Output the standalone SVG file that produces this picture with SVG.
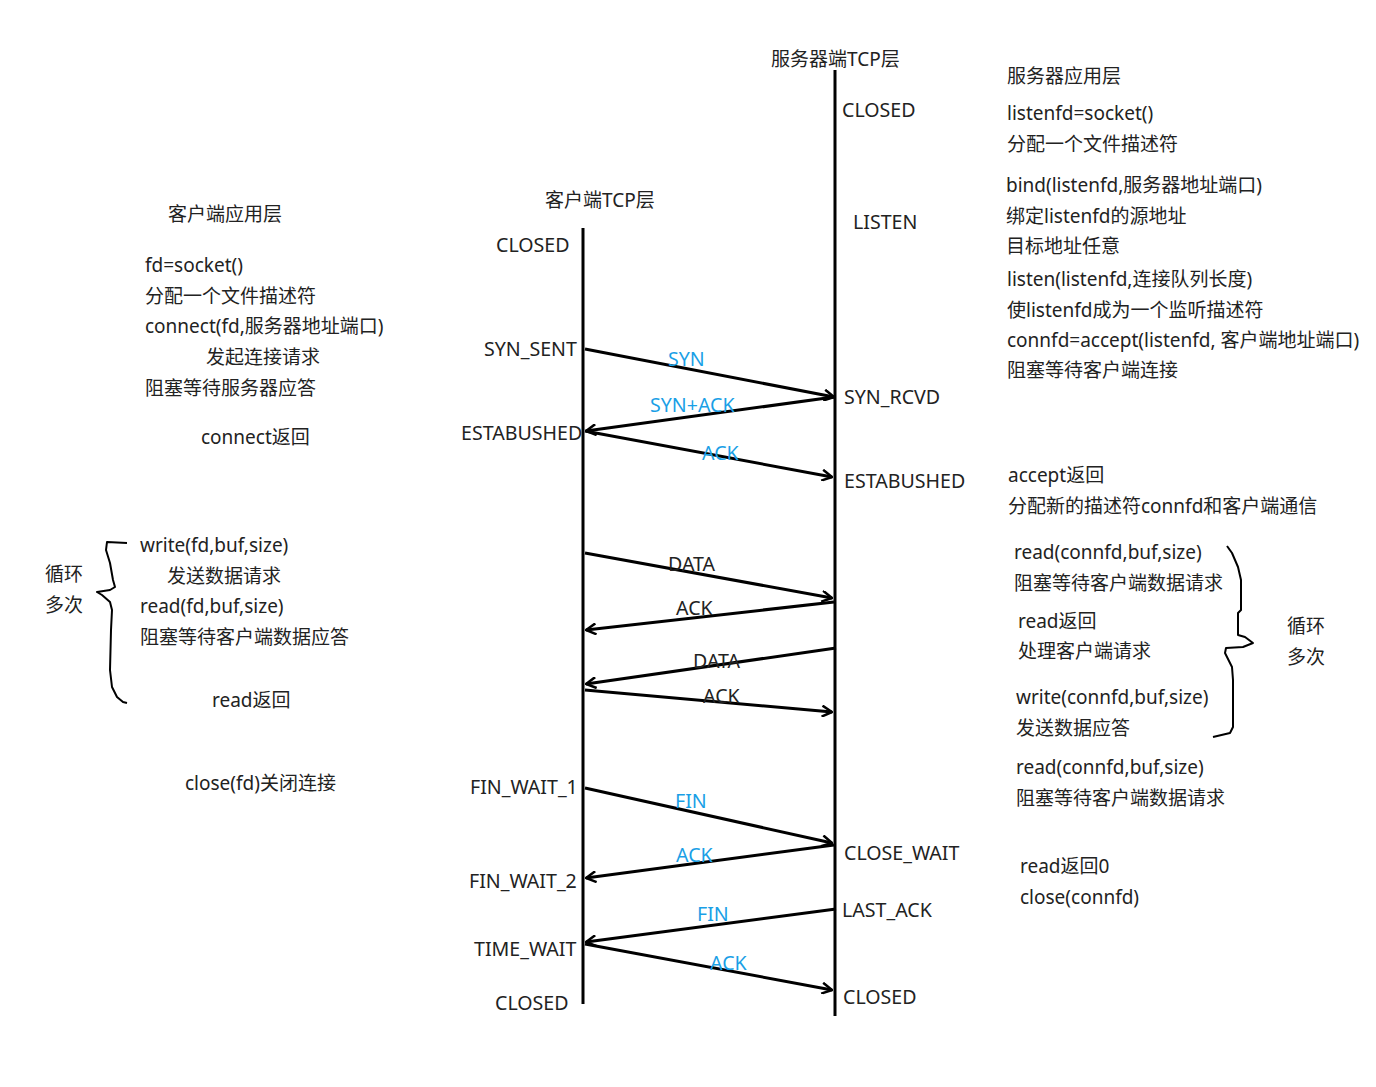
<svg xmlns="http://www.w3.org/2000/svg" width="1376" height="1087" viewBox="0 0 1376 1087">
<defs>
<marker id="ah" viewBox="0 0 12 12" refX="11" refY="6" markerWidth="12" markerHeight="12" markerUnits="userSpaceOnUse" orient="auto">
<path d="M1,0.5 L11,6 L1,11.5" fill="none" stroke="#000" stroke-width="2.5"/>
</marker>
<style>
text{font-family:"Noto Sans","Noto Sans CJK SC",sans-serif;font-size:19px;fill:#222;dominant-baseline:central}
.l{font-size:19.6px}
.b{fill:#1a9fe6}
.ln{stroke:#000;stroke-width:3;fill:none}
.ar{stroke:#000;stroke-width:3;fill:none;marker-end:url(#ah)}
.br{stroke:#000;stroke-width:2;fill:none;stroke-linejoin:round}
</style>
</defs>
<rect width="1376" height="1087" fill="#fff"/>
<g id="lifelines">
<line class="ln" x1="583" y1="228" x2="583" y2="1004"/>
<line class="ln" x1="835" y1="70" x2="835" y2="1016"/>
</g>
<g id="connectors">
<line class="ar" x1="585" y1="349" x2="834" y2="397"/>
<line class="ar" x1="834" y1="397" x2="586" y2="431"/>
<line class="ar" x1="585" y1="431" x2="832" y2="477"/>
<line class="ar" x1="585" y1="553" x2="832" y2="598"/>
<line class="ar" x1="834" y1="602" x2="586" y2="630"/>
<line class="ar" x1="836" y1="648" x2="586" y2="684"/>
<line class="ar" x1="585" y1="690" x2="832" y2="712"/>
<line class="ar" x1="585" y1="788" x2="832" y2="843"/>
<line class="ar" x1="834" y1="845" x2="586" y2="878"/>
<line class="ar" x1="836" y1="909" x2="586" y2="942"/>
<line class="ar" x1="585" y1="944" x2="832" y2="990"/>
<path class="br" d="M127,543 L107,542 L106,550 L110,563 L113,580 L115,587 L110,590 L97,592 L102,595 L110,602 L112,610 L111,630 L110,670 L112,687 L117,697 L123,702 L127,703"/>
<path class="br" d="M1227,546 L1232,553 L1238,567 L1241,580 L1241,610 L1238,613 L1238,635 L1245,637 L1253,643 L1243,647 L1226,648 L1225,653 L1232,667 L1233,680 L1233,727 L1230,733 L1213,737"/>
</g>
<g id="labels">
<text class="l b" x="668" y="358">SYN</text>
<text class="l b" x="650" y="404">SYN+ACK</text>
<text class="l b" x="702" y="452">ACK</text>
<text class="l" x="668" y="563">DATA</text>
<text class="l" x="676" y="607">ACK</text>
<text class="l" x="693" y="660">DATA</text>
<text class="l" x="703" y="695">ACK</text>
<text class="l b" x="675" y="800">FIN</text>
<text class="l b" x="676" y="854">ACK</text>
<text class="l b" x="697" y="913">FIN</text>
<text class="l b" x="710" y="962">ACK</text>
</g>
<g id="server-tcp">
<text x="771" y="59">服务器端TCP层</text>
<text class="l" x="842" y="109">CLOSED</text>
<text class="l" x="853" y="221">LISTEN</text>
<text class="l" x="844" y="396">SYN_RCVD</text>
<text class="l" x="844" y="480">ESTABUSHED</text>
<text class="l" x="844" y="852">CLOSE_WAIT</text>
<text class="l" x="842" y="909">LAST_ACK</text>
<text class="l" x="843" y="996">CLOSED</text>
</g>
<g id="client-tcp">
<text x="545" y="200">客户端TCP层</text>
<text class="l" x="496" y="244">CLOSED</text>
<text class="l" x="484" y="348">SYN_SENT</text>
<text class="l" x="461" y="432">ESTABUSHED</text>
<text class="l" x="470" y="786">FIN_WAIT_1</text>
<text class="l" x="469" y="880">FIN_WAIT_2</text>
<text class="l" x="474" y="948">TIME_WAIT</text>
<text class="l" x="495" y="1002">CLOSED</text>
</g>
<g id="client-app">
<text x="168" y="214">客户端应用层</text>
<text x="145" y="265">fd=socket()</text>
<text x="145" y="296">分配一个文件描述符</text>
<text x="145" y="326">connect(fd,服务器地址端口)</text>
<text x="206" y="357">发起连接请求</text>
<text x="145" y="388">阻塞等待服务器应答</text>
<text x="201" y="437">connect返回</text>
<text x="140" y="545">write(fd,buf,size)</text>
<text x="167" y="576">发送数据请求</text>
<text x="140" y="606">read(fd,buf,size)</text>
<text x="140" y="637">阻塞等待客户端数据应答</text>
<text x="212" y="700">read返回</text>
<text x="45" y="574">循环</text>
<text x="45" y="605">多次</text>
<text x="185" y="783">close(fd)关闭连接</text>
</g>
<g id="server-app">
<text x="1007" y="76">服务器应用层</text>
<text x="1007" y="113">listenfd=socket()</text>
<text x="1007" y="144">分配一个文件描述符</text>
<text x="1006" y="185">bind(listenfd,服务器地址端口)</text>
<text x="1006" y="216">绑定listenfd的源地址</text>
<text x="1006" y="246">目标地址任意</text>
<text x="1007" y="279">listen(listenfd,连接队列长度)</text>
<text x="1007" y="310">使listenfd成为一个监听描述符</text>
<text x="1007" y="340">connfd=accept(listenfd, 客户端地址端口)</text>
<text x="1007" y="370">阻塞等待客户端连接</text>
<text x="1008" y="475">accept返回</text>
<text x="1008" y="506">分配新的描述符connfd和客户端通信</text>
<text x="1014" y="552">read(connfd,buf,size)</text>
<text x="1014" y="583">阻塞等待客户端数据请求</text>
<text x="1018" y="621">read返回</text>
<text x="1018" y="651">处理客户端请求</text>
<text x="1016" y="697">write(connfd,buf,size)</text>
<text x="1016" y="728">发送数据应答</text>
<text x="1016" y="767">read(connfd,buf,size)</text>
<text x="1016" y="798">阻塞等待客户端数据请求</text>
<text x="1020" y="866">read返回0</text>
<text x="1020" y="897">close(connfd)</text>
<text x="1287" y="626">循环</text>
<text x="1287" y="657">多次</text>
</g>
</svg>
